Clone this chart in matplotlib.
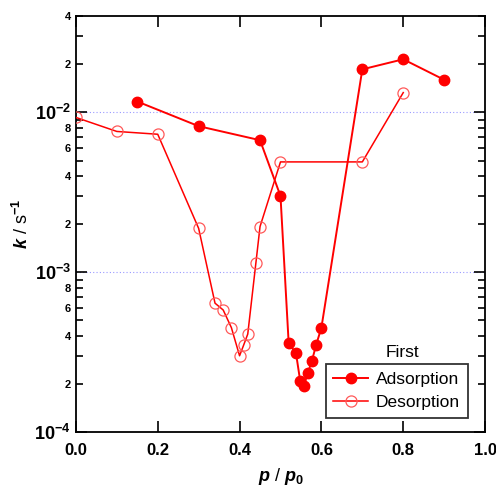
"""Rate constant k vs relative pressure, first adsorption / desorption cycle"""

import matplotlib
matplotlib.use("Agg")
import matplotlib.pyplot as plt
from matplotlib.ticker import FixedLocator, FixedFormatter

plt.rcParams["font.family"] = ["Liberation Sans", "DejaVu Sans"]
plt.rcParams["mathtext.fontset"] = "custom"
plt.rcParams["mathtext.rm"] = "Liberation Sans:bold"
plt.rcParams["mathtext.it"] = "Liberation Sans:bold:italic"

# Adsorption branch (filled)
ads_p = [0.15, 0.30, 0.45, 0.50, 0.52, 0.538, 0.548, 0.557, 0.567, 0.577,
         0.587, 0.60, 0.70, 0.80, 0.90]
ads_k = [1.17e-2, 8.2e-3, 6.7e-3, 3.0e-3, 3.6e-4, 3.1e-4, 2.1e-4, 1.94e-4,
         2.35e-4, 2.8e-4, 3.5e-4, 4.5e-4, 1.86e-2, 2.15e-2, 1.6e-2]

# Desorption branch (open)
des_p = [0.80, 0.70, 0.50, 0.45, 0.44, 0.42, 0.41, 0.40, 0.38, 0.36, 0.34,
         0.30, 0.20, 0.10, 0.00]
des_k = [1.33e-2, 4.9e-3, 4.9e-3, 1.93e-3, 1.15e-3, 4.1e-4, 3.5e-4, 3.0e-4,
         4.5e-4, 5.8e-4, 6.4e-4, 1.88e-3, 7.3e-3, 7.6e-3, 9.3e-3]

fig = plt.figure(figsize=(4.96, 4.98), dpi=100)
ax = fig.add_axes([0.153, 0.1325, 0.825, 0.835])

ax.plot(ads_p, ads_k, "-", color="red", lw=1.4, marker="o", ms=7.5,
        mfc="red", mec="red", label="Adsorption", zorder=3)
ax.plot(des_p, des_k, "-", color="red", lw=1.1, marker="o", ms=8,
        mfc="none", mec=(1, 0.35, 0.35), mew=0.9, label="Desorption", zorder=3)

ax.set_yscale("log")
ax.set_xlim(0, 1.0)
ax.set_ylim(1e-4, 4e-2)

# grid lines only at the decades
for yv in [1e-3, 1e-2]:
    ax.axhline(yv, color="#9999ff", lw=0.8, ls=(0, (1, 2)), zorder=1)

ax.set_xticks([0, 0.2, 0.4, 0.6, 0.8, 1.0])
ax.set_xticklabels(["0.0", "0.2", "0.4", "0.6", "0.8", "1.0"],
                   fontsize=12, fontweight="bold")

ax.yaxis.set_major_locator(FixedLocator([1e-4, 1e-3, 1e-2]))
ax.yaxis.set_major_formatter(FixedFormatter(
    [r"10$^{-4}$", r"10$^{-3}$", r"10$^{-2}$"]))
for lab in ax.get_yticklabels():
    lab.set_fontsize(13)
    lab.set_fontweight("bold")

minor = [m * 10.0 ** e for e in (-4, -3, -2) for m in range(2, 10)]
minor = [v for v in minor if v <= 4e-2]
ax.yaxis.set_minor_locator(FixedLocator(minor))
minor_labels = []
for v in minor:
    m = round(v / 10 ** int(f"{v:e}".split("e")[1]))
    minor_labels.append(str(m) if m in (2, 4, 6, 8) else "")
ax.yaxis.set_minor_formatter(FixedFormatter(minor_labels))
ax.tick_params(axis="y", which="minor", labelsize=8)
for lab in ax.get_yticklabels(minor=True):
    lab.set_fontweight("bold")

ax.tick_params(which="both", direction="in", top=True, right=True, width=1.2)
ax.tick_params(which="major", length=8)
ax.tick_params(which="minor", length=5)
ax.tick_params(axis="x", which="major", pad=8)
for s in ax.spines.values():
    s.set_linewidth(1.3)

ax.set_xlabel(r"$p$ / $p_0$", fontsize=13, labelpad=6)
ax.set_ylabel(r"$k$ / s$^{-1}$", fontsize=13, labelpad=2)

leg = ax.legend(loc="lower right", bbox_to_anchor=(0.958, 0.034),
                fontsize=12.5, frameon=True, fancybox=False,
                edgecolor="black", handlelength=2.0, borderpad=0.45,
                labelspacing=0.45, handletextpad=0.45, borderaxespad=0)
leg.get_frame().set_linewidth(1.3)
ax.text(0.797, 0.192, "First", transform=ax.transAxes, fontsize=12.5,
        ha="center", va="center")

plt.savefig("out.png", dpi=100)
